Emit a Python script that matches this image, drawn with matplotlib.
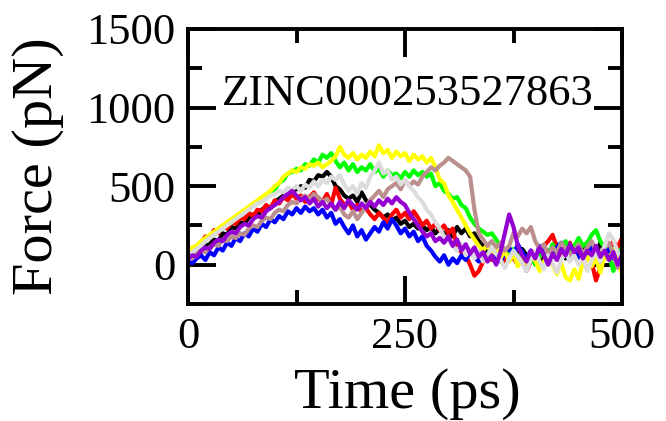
import numpy as np
import matplotlib
matplotlib.use("Agg")
import matplotlib.pyplot as plt
from matplotlib.ticker import MultipleLocator

plt.rcParams['font.family'] = ['Liberation Serif', 'DejaVu Serif']

# Pulling time axis (ps), sampled every 5 ps
time_ps = np.arange(0, 501, 5)

force_black = [60, 50, 90, 80, 120, 130, 160, 150, 200, 190, 240, 230, 270, 260, 300, 320, 310, 350, 370, 360,
               400, 420, 440, 430, 470, 480, 500, 490, 540, 530, 570, 560, 590, 560, 500, 480, 440, 420, 440, 400,
               460, 410, 380, 350, 330, 300, 320, 280, 300, 260, 280, 240, 260, 230, 250, 220, 240, 200, 230, 190,
               220, 180, 240, 200, 230, 180, 200, 150, 120, 80, 100, 60, 90, 50, 80, 40, 70, 100, 60, 30,
               70, -20, 50, 90, 60, 130, 80, 40, 100, 120, 70, 100, 140, 90, 60, 140, 100, 60, 110, 70, 120]

force_red = [80, 100, 120, 140, 180, 170, 220, 200, 250, 230, 270, 260, 300, 290, 330, 310, 350, 340, 380, 360,
             410, 390, 430, 410, 450, 420, 440, 400, 430, 460, 420, 400, 450, 380, 490, 420, 380, 400, 350, 380,
             340, 360, 320, 290, 330, 300, 270, 320, 350, 300, 330, 290, 340, 300, 250, 280, 230, 260, 220, 250,
             200, 230, 110, 80, 60, 0, -70, -40, 20, 60, 30, 90, 60, 20, 70, 40, 0, 50, -40, 20,
             80, 40, 120, 150, 190, 110, 60, 100, 140, 60, 90, 30, -30, 20, -100, -20, 60, 100, 150, 110, 170]

force_green = [70, 90, 110, 140, 150, 180, 190, 220, 230, 260, 270, 300, 310, 340, 350, 380, 390, 420, 440, 460,
               480, 520, 540, 580, 590, 610, 600, 640, 630, 670, 650, 700, 680, 710, 660, 620, 650, 600, 640, 590,
               620, 600, 640, 590, 610, 560, 600, 570, 580, 550, 590, 560, 600, 570, 590, 560, 580, 500, 520, 470,
               450, 420, 430, 380, 360, 300, 260, 230, 210, 190, 200, 160, 120, 90, 60, 100, 40, 80, 20, 60,
               0, 50, 100, 60, 130, 80, 110, 150, 90, 120, 170, 120, 140, 190, 220, 150, 110, 60, -40, 60, 110]

force_blue = [20, 10, 40, 60, 30, 80, 60, 110, 90, 140, 120, 170, 150, 200, 180, 230, 210, 260, 240, 290,
              270, 310, 290, 340, 320, 360, 330, 370, 340, 360, 320, 350, 300, 330, 260, 290, 240, 200, 250, 180,
              220, 160, 200, 240, 210, 270, 230, 290, 250, 200, 230, 180, 210, 150, 180, 120, 90, 50, 20, 60,
              0, 40, 10, 60, 30, 80, 50, 20, 70, 30, 90, 50, 20, 70, 110, 60, 130, 80, 40, 90,
              30, 120, 70, 20, 60, 110, 140, 70, 30, 90, 40, 10, 70, 110, 50, 0, 60, 100, 40, 80, 20]

force_yellow = [90, 110, 120, 150, 170, 190, 210, 230, 250, 270, 290, 310, 330, 350, 370, 390, 410, 430, 450, 470,
                500, 520, 560, 580, 600, 590, 620, 610, 640, 630, 650, 620, 640, 660, 690, 750, 700, 680, 710, 670,
                700, 680, 720, 690, 760, 710, 730, 680, 720, 690, 710, 660, 700, 670, 690, 650, 680, 620, 540, 520,
                440, 400, 350, 300, 250, 200, 160, 120, 90, 130, 60, 100, 40, 90, 20, 70, -10, 50, 10, 80,
                30, -40, 20, 70, 0, -60, 10, -80, -100, -30, -90, 20, 50, -10, 40, -50, 60, 30, 100, 20, -60]

force_brown = [50, 40, 70, 90, 80, 110, 130, 120, 160, 150, 180, 170, 200, 190, 230, 250, 240, 280, 300, 290,
               330, 350, 340, 380, 400, 390, 420, 440, 420, 450, 430, 400, 420, 380, 350, 370, 320, 300, 340, 290,
               330, 370, 410, 440, 470, 430, 480, 500, 520, 480, 540, 500, 530, 510, 560, 590, 620, 600, 630, 650,
               680, 660, 640, 620, 600, 560, 350, 200, 160, 120, 150, 110, 140, 90, 120, 200, 180, 230, 200, 240,
               150, 100, 130, 60, 110, 80, 140, 100, 60, 90, 130, 70, 110, 150, 90, 60, 120, 140, 70, -20, 50]

force_grey = [60, 80, 100, 120, 150, 170, 190, 210, 230, 250, 270, 290, 310, 330, 350, 370, 390, 400, 420, 440,
              450, 470, 460, 490, 480, 500, 470, 510, 490, 530, 500, 540, 520, 560, 540, 570, 510, 470, 500, 450,
              520, 490, 560, 600, 650, 580, 600, 540, 560, 510, 540, 500, 470, 430, 400, 350, 320, 270, 230, 180,
              150, 120, 90, 130, 60, 100, 40, 80, 20, 60, 110, 70, 30, -20, 40, 90, 50, 10, -40, 30,
              80, 20, -30, 60, 10, -50, 30, 80, 20, 60, 0, 50, -40, 30, 80, 20, 120, 200, 160, 80, 30]

force_violet = [40, 60, 50, 90, 110, 100, 140, 160, 150, 190, 210, 200, 240, 260, 250, 290, 310, 300, 340, 360,
                380, 400, 430, 450, 470, 440, 410, 430, 390, 420, 370, 400, 360, 390, 350, 400, 360, 410, 380, 350,
                390, 360, 400, 370, 410, 380, 420, 390, 430, 400, 380, 330, 290, 250, 210, 180, 200, 150, 170, 140,
                180, 120, 160, 90, 130, 70, 110, 50, 80, 20, 60, 0, 80, 200, 320, 240, 120, 60, 20, 90,
                40, 110, 60, 0, 70, 30, 100, 60, 130, 80, 110, 40, 90, 60, 120, 50, 90, 30, 80, 0, 60]

series = [
    (force_black, "#000000"),
    (force_red, "#FF0000"),
    (force_green, "#00FF00"),
    (force_blue, "#0000FF"),
    (force_yellow, "#FFFF00"),
    (force_brown, "#BC8F8F"),
    (force_grey, "#DCDCDC"),
    (force_violet, "#9400D3"),
]

fig = plt.figure(figsize=(6.66, 4.21), dpi=100)
ax = fig.add_axes([188 / 666, 1 - 304 / 421, 434 / 666, 275 / 421])

for values, color in series:
    ax.plot(time_ps, values, color=color, lw=3.0, solid_joinstyle='round')

ax.set_xlim(0, 500)
ax.set_ylim(-250, 1500)
ax.xaxis.set_major_locator(MultipleLocator(250))
ax.xaxis.set_minor_locator(MultipleLocator(125))
ax.yaxis.set_major_locator(MultipleLocator(500))
ax.yaxis.set_minor_locator(MultipleLocator(250))

for side in ax.spines.values():
    side.set_linewidth(2.8)

ax.tick_params(which='both', direction='in', top=True, right=True, width=2.8)
ax.tick_params(which='major', length=20)
ax.tick_params(which='minor', length=10)
ax.tick_params(axis='x', which='major', labelsize=32, pad=9)
ax.tick_params(axis='y', which='major', labelsize=32, pad=9)

fig.text(407 / 666, 1 - 408 / 421, "Time (ps)", fontsize=42, ha='center', va='baseline')
fig.text(52 / 666, 1 - 166 / 421, "Force (pN)", fontsize=42, ha='center', va='baseline',
         rotation=90, rotation_mode='anchor')
fig.text(222 / 666, 1 - 105 / 421, "ZINC000253527863", fontsize=32, ha='left', va='baseline')

fig.savefig("out.png", dpi=100)
